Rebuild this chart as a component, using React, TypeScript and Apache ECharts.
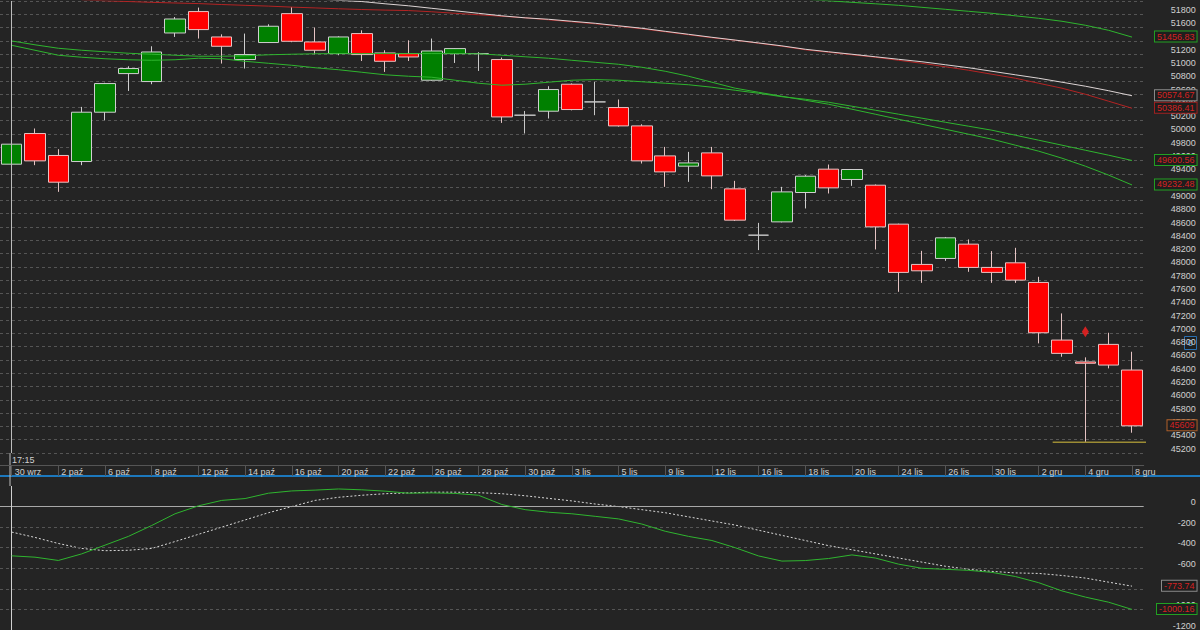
import React, { useEffect, useRef } from "react";
import * as echarts from "echarts";

const dates = [
  "30 wrz", "1 paź", "2 paź", "5 paź", "6 paź", "7 paź", "8 paź", "9 paź", "12 paź", "13 paź",
  "14 paź", "15 paź", "16 paź", "19 paź", "20 paź", "21 paź", "22 paź", "23 paź", "26 paź", "27 paź",
  "28 paź", "29 paź", "30 paź", "2 lis", "3 lis", "4 lis", "5 lis", "6 lis", "9 lis", "10 lis",
  "12 lis", "13 lis", "16 lis", "17 lis", "18 lis", "19 lis", "20 lis", "23 lis", "24 lis", "25 lis",
  "26 lis", "27 lis", "30 lis", "1 gru", "2 gru", "3 gru", "4 gru", "7 gru", "8 gru",
];

// [open, close, low, high]
const candles = [
  [49545, 49846, 49450, 49900], [50006, 49595, 49530, 50082], [49676, 49274, 49129, 49770],
  [49585, 50327, 49530, 50407], [50327, 50758, 50206, 50770], [50908, 50984, 50647, 51018],
  [50788, 51233, 50748, 51319], [51519, 51729, 51459, 51759], [51841, 51570, 51435, 51901],
  [51459, 51319, 51059, 51499], [51119, 51194, 50984, 51510], [51375, 51620, 51370, 51650],
  [51810, 51394, 51380, 51910], [51384, 51259, 51199, 51600], [51209, 51459, 51184, 51470],
  [51510, 51194, 51098, 51559], [51218, 51093, 50933, 51259], [51209, 51158, 51098, 51409],
  [50808, 51248, 50800, 51435], [51209, 51284, 51068, 51290], [51209, 51209, 50948, 51230],
  [51119, 50256, 50166, 51149], [50282, 50282, 50006, 50346], [50342, 50668, 50232, 50718],
  [50748, 50367, 50355, 50760], [50482, 50482, 50282, 50782], [50397, 50121, 50110, 50518],
  [50121, 49595, 49555, 50146], [49670, 49429, 49204, 49805], [49515, 49564, 49279, 49730],
  [49715, 49369, 49169, 49805], [49174, 48703, 48690, 49294], [48477, 48477, 48252, 48662],
  [48677, 49128, 48670, 49204], [49119, 49364, 48879, 49380], [49470, 49189, 49104, 49540],
  [49315, 49465, 49219, 49470], [49229, 48602, 48262, 49240], [48643, 47917, 47625, 48650],
  [48037, 47941, 47760, 48241], [48127, 48437, 48091, 48450], [48342, 47992, 47926, 48413],
  [47992, 47917, 47760, 48237], [48061, 47801, 47760, 48287], [47766, 47009, 46849, 47851],
  [46899, 46699, 46648, 47300], [46570, 46550, 45361, 46639], [46834, 46523, 46473, 47009],
  [46448, 45609, 45505, 46723],
];

const N = null;
const maTopGreen = [
  N, N, N, N, N, N, N, N, N, N, N, N, N, N, N, N, N, N, N, N, N, N, N, N, N, N, N, N, N, N, N, N, N, N,
  52026, 52003, 51980, 51958, 51935, 51905, 51875, 51845, 51815, 51777, 51740, 51695, 51635, 51559, 51456.83,
];
const maWhite = [
  N, N, N, N, N, N, N, N, N, N, N, N, N, 52033,
  52010, 51992, 51958, 51928, 51890, 51853, 51815, 51777, 51747, 51725, 51695, 51665, 51627, 51590, 51544, 51499,
  51454, 51412, 51369, 51325, 51274, 51236, 51199, 51161, 51123, 51086, 51041, 50996, 50943, 50890, 50838, 50778,
  50718, 50650, 50574.67,
];
const maRed = [
  N, N, N, 52018, 52003, 51992, 51980, 51970, 51961, 51947, 51935, 51923, 51908, 51896, 51883, 51872, 51863,
  51856, 51838, 51815, 51793, 51770, 51747, 51717, 51687, 51657, 51620, 51582, 51537, 51492, 51447, 51409, 51364,
  51319, 51266, 51229, 51191, 51154, 51108, 51063, 51011, 50958, 50898, 50838, 50763, 50688, 50597, 50492, 50386.41,
];
const maGreenFast = [
  51399, 51341, 51289, 51259, 51236, 51214, 51199, 51184, 51169, 51169, 51176, 51191, 51199, 51206, 51209, 51209,
  51209, 51209, 51209, 51209, 51206, 51184, 51161, 51139, 51108, 51078, 51048, 51003, 50943, 50868, 50778, 50688,
  50627, 50567, 50507, 50447, 50372, 50297, 50221, 50146, 50071, 49996, 49921, 49831, 49741, 49635, 49515, 49380,
  49232.48,
];
const maGreenSlow = [
  51334, 51259, 51184, 51154, 51131, 51116, 51108, 51116, 51139, 51131, 51093, 51063, 51033, 50996, 50966, 50928,
  50890, 50868, 50853, 50808, 50763, 50733, 50748, 50778, 50808, 50818, 50808, 50785, 50763, 50740, 50703, 50657,
  50612, 50560, 50522, 50477, 50417, 50357, 50297, 50237, 50176, 50116, 50056, 49981, 49906, 49831, 49755, 49680,
  49600.56,
];

const oscMain = [
  -479, -492, -524, -460, -375, -290, -184, -70, 7, 60, 78, 130, 152, 160, 171, 163, 150, 130, 133, 128, 110, 20,
  -30, -55, -70, -95, -120, -170, -240, -290, -330, -400, -480, -530, -525, -505, -470, -500, -560, -600, -610,
  -620, -640, -680, -740, -820, -880, -930, -1000.16,
];
const oscSignal = [
  -248, -300, -359, -407, -429, -425, -407, -340, -270, -200, -130, -60, 0, 60, 90, 110, 125, 133, 140, 140, 135,
  125, 105, 80, 55, 25, 0, -30, -60, -100, -140, -180, -230, -280, -330, -380, -420, -460, -500, -540, -580, -610,
  -630, -645, -650, -670, -695, -735, -773.74,
];

const signalMarker = [[46, 47024]];
const supportLine = [[44.6, 45361], [50.2, 45361]];
const lowerGrid = [-200, -400, -600, -800, -1000];

const FONT = "Liberation Sans, Arial, sans-serif";

function endBox(idx: number, value: number, text: string, border: string, xIndex = 48) {
  return {
    symbol: "circle",
    symbolSize: 1,
    silent: true,
    itemStyle: { color: "transparent" },
    data: [
      {
        coord: [xIndex, value],
        label: {
          show: true,
          position: [65, 0],
          align: "right",
          verticalAlign: "middle",
          formatter: text,
          color: "#d42222",
          fontSize: 9,
          fontFamily: FONT,
          backgroundColor: "#1e1e1e",
          borderColor: border,
          borderWidth: 1,
          padding: [1, 2, 0, 2],
        },
      },
    ],
  };
}

export default function App() {
  const ref = useRef<HTMLDivElement>(null);
  useEffect(() => {
    if (!ref.current) return;
    const chart = echarts.init(ref.current, null, { renderer: "svg" });
    const gridW = 1145.4;
    const option: any = {
      animation: false,
      backgroundColor: "#242424",
      textStyle: { fontFamily: FONT },
      grid: [
        { left: -1.7, width: gridW, top: 1, height: 452 },
        { left: -1.7, width: gridW, top: 486, height: 147 },
      ],
      xAxis: [
        {
          type: "category",
          gridIndex: 0,
          data: dates,
          boundaryGap: true,
          offset: 12,
          axisLine: { show: true, lineStyle: { color: "#555" } },
          axisTick: { show: true, alignWithLabel: true, interval: 1, length: 11, lineStyle: { color: "#555" } },
          axisLabel: {
            interval: 1,
            align: "left",
            margin: 2,
            color: "#cfcfcf",
            fontSize: 9,
            fontFamily: FONT,
            padding: [0, 0, 0, 3],
          },
          splitLine: { show: false },
        },
        { type: "value", gridIndex: 0, min: -0.5, max: 48.5, show: false },
        {
          type: "category",
          gridIndex: 1,
          data: dates,
          boundaryGap: true,
          axisLine: { show: false },
          axisTick: { show: false },
          axisLabel: { show: false },
          splitLine: { show: false },
        },
      ],
      yAxis: [
        {
          type: "value",
          gridIndex: 0,
          position: "right",
          min: 45200,
          max: 52000,
          interval: 200,
          axisLine: { show: false },
          axisTick: { show: false },
          axisLabel: {
            align: "right",
            verticalAlign: "bottom",
            margin: 52,
            color: "#d0d0d0",
            fontSize: 9,
            fontFamily: FONT,
            formatter: (v: number) => (v >= 52000 ? "" : String(v)),
          },
          splitLine: { show: true, lineStyle: { color: "#555", type: [3, 3], width: 1 } },
        },
        {
          type: "value",
          gridIndex: 1,
          position: "right",
          min: -1200,
          max: 200,
          interval: 200,
          axisLine: { show: false },
          axisTick: { show: false },
          axisLabel: {
            align: "right",
            verticalAlign: "bottom",
            margin: 52,
            color: "#d0d0d0",
            fontSize: 9,
            fontFamily: FONT,
            formatter: (v: number) => (v > 0 ? "" : String(v)),
          },
          splitLine: { show: false },
        },
      ],
      series: [
        {
          type: "candlestick",
          xAxisIndex: 0,
          yAxisIndex: 0,
          data: candles,
          barWidth: 21,
          itemStyle: {
            color: "#008000",
            color0: "#ff0000",
            borderColor: "#cfcfcf",
            borderColor0: "#e6c4c4",
            borderColorDoji: "#c8c8c8",
            borderWidth: 1,
          },
          markLine: {
            silent: true,
            symbol: ["none", "none"],
            label: { show: false },
            lineStyle: { color: "#bdbdbd", type: "solid", width: 1 },
            data: [{ xAxis: 0 }],
          },
          markPoint: endBox(0, 45609, "45609", "#b0602a"),
          z: 3,
        },
        {
          type: "line",
          xAxisIndex: 0,
          yAxisIndex: 0,
          data: maRed,
          symbol: "none",
          lineStyle: { color: "#b42424", width: 1 },
          markPoint: endBox(0, 50386.41, "50386.41", "#a02020"),
          z: 4,
        },
        {
          type: "line",
          xAxisIndex: 0,
          yAxisIndex: 0,
          data: maWhite,
          symbol: "none",
          lineStyle: { color: "#dcd4d4", width: 1 },
          markPoint: endBox(0, 50574.67, "50574.67", "#8a8a8a"),
          z: 4,
        },
        {
          type: "line",
          xAxisIndex: 0,
          yAxisIndex: 0,
          data: maTopGreen,
          symbol: "none",
          lineStyle: { color: "#2fb52f", width: 1 },
          markPoint: endBox(0, 51456.83, "51456.83", "#22a022"),
          z: 4,
        },
        {
          type: "line",
          xAxisIndex: 0,
          yAxisIndex: 0,
          data: maGreenSlow,
          symbol: "none",
          lineStyle: { color: "#2fb52f", width: 1 },
          markPoint: endBox(0, 49600.56, "49600.56", "#22a022"),
          z: 4,
        },
        {
          type: "line",
          xAxisIndex: 0,
          yAxisIndex: 0,
          data: maGreenFast,
          symbol: "none",
          lineStyle: { color: "#2fb52f", width: 1 },
          markPoint: endBox(0, 49232.48, "49232.48", "#22a022"),
          z: 4,
        },
        {
          type: "scatter",
          xAxisIndex: 0,
          yAxisIndex: 0,
          data: signalMarker,
          symbol: "diamond",
          symbolSize: [7, 11],
          itemStyle: { color: "#ff2020" },
          z: 6,
        },
        {
          type: "line",
          xAxisIndex: 1,
          yAxisIndex: 0,
          data: supportLine,
          symbol: "none",
          clip: false,
          lineStyle: { color: "#9c8c34", width: 1.5 },
          z: 5,
        },
        {
          type: "line",
          xAxisIndex: 2,
          yAxisIndex: 1,
          data: oscSignal,
          symbol: "none",
          lineStyle: { color: "#d8d8d8", width: 1, type: [2, 2] },
          markLine: {
            silent: true,
            symbol: ["none", "none"],
            label: { show: false },
            data: [
              ...lowerGrid.map((v) => ({ yAxis: v, lineStyle: { color: "#555", type: [3, 3], width: 1 } })),
              { yAxis: 0, lineStyle: { color: "#a8a8a8", type: "solid", width: 1 } },
              { xAxis: 0, lineStyle: { color: "#d0d0d0", type: "solid", width: 1 } },
            ],
          },
          markPoint: endBox(0, -773.74, "-773.74", "#8a8a8a"),
          z: 4,
        },
        {
          type: "line",
          xAxisIndex: 2,
          yAxisIndex: 1,
          data: oscMain,
          symbol: "none",
          lineStyle: { color: "#2fb52f", width: 1 },
          markPoint: endBox(0, -1000.16, "-1000.16", "#22a022"),
          z: 5,
        },
      ],
      graphic: [
        { type: "rect", shape: { x: 0, y: 475, width: 1200, height: 2 }, style: { fill: "#1c78bd" }, silent: true },
        { type: "line", shape: { x1: 10, y1: 453, x2: 10, y2: 486 }, style: { stroke: "#bdbdbd", lineWidth: 1 }, silent: true },
        {
          type: "text",
          x: 12,
          y: 455,
          style: { text: "17:15", fill: "#cfcfcf", font: `9px ${FONT}` },
          silent: true,
        },
        {
          type: "rect",
          shape: { x: 1184.5, y: 336.5, width: 12, height: 13 },
          style: { fill: "#1e1e1e", stroke: "#2a6fb0", lineWidth: 1 },
          silent: true,
        },
        {
          type: "text",
          x: 1190.5,
          y: 343,
          style: { text: "0", fill: "#5aa8e8", font: `9px ${FONT}`, align: "center", verticalAlign: "middle" },
          silent: true,
        },
      ],
    };
    chart.setOption(option);
    return () => chart.dispose();
  }, []);
  return (
    <div
      ref={ref}
      style={{ position: "fixed", left: 0, top: 0, width: 1200, height: 630 }}
    />
  );
}
